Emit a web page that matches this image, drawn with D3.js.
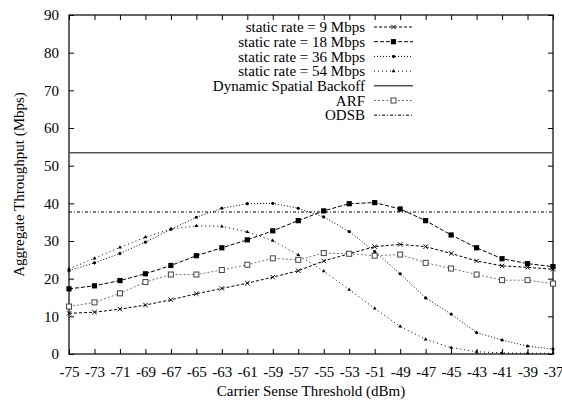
<!DOCTYPE html>
<html lang="en">
<head>
<meta charset="utf-8">
<title>Aggregate throughput vs carrier sense threshold</title>
<script src="https://cdn.jsdelivr.net/npm/d3@7"></script>
<style>
  body { margin: 0; background: #fff; }
</style>
</head>
<body>
<script>
var thresholds = [-75, -73, -71, -69, -67, -65, -63, -61, -59, -57, -55, -53, -51, -49, -47, -45, -43, -41, -39, -37];
var rate9  = [10.8, 11.1, 11.9, 13.0, 14.4, 16.0, 17.4, 18.8, 20.4, 22.1, 24.7, 26.6, 28.5, 29.1, 28.5, 26.7, 24.7, 23.4, 23.0, 22.5];
var rate18 = [17.3, 18.1, 19.5, 21.3, 23.5, 26.1, 28.2, 30.3, 32.7, 35.4, 38.0, 39.9, 40.2, 38.5, 35.4, 31.6, 28.2, 25.3, 24.0, 23.2];
var rate36 = [22.1, 24.2, 26.7, 29.7, 33.1, 36.3, 38.7, 39.9, 40.0, 38.7, 36.4, 32.5, 27.2, 21.3, 14.9, 10.6, 5.7, 3.7, 2.1, 1.3];
var rate54 = [22.6, 25.4, 28.3, 31.0, 33.2, 34.0, 33.9, 32.4, 30.1, 26.3, 22.0, 17.1, 12.1, 7.3, 3.9, 1.7, 0.6, 0.3, 0.2, 0.2];
var arf    = [12.6, 13.7, 16.1, 19.1, 21.1, 21.1, 22.3, 23.7, 25.4, 25.0, 26.8, 26.6, 26.1, 26.4, 24.2, 22.7, 21.1, 19.6, 19.6, 18.7];
var dsb = 53.4;
var odsb = 37.7;
var yTicks = [0, 10, 20, 30, 40, 50, 60, 70, 80, 90];

var w = 562, h = 403;
var mLeft = 69, mRight = 553, mTop = 15, mBottom = 354;
var font = "'Liberation Serif', 'Times New Roman', 'DejaVu Serif', serif";

var x = d3.scaleLinear().domain([-75, -37]).range([mLeft, mRight]);
var y = d3.scaleLinear().domain([0, 90]).range([mBottom, mTop]);

var svg = d3.select("body").append("svg")
  .attr("width", w).attr("height", h)
  .attr("font-family", font).attr("font-size", 15);

var series = [
  {name: "static rate = 9 Mbps", values: rate9, dash: "3,2", color: "#000", marker: "cross"},
  {name: "static rate = 18 Mbps", values: rate18, dash: "4,2", color: "#000", marker: "square"},
  {name: "static rate = 36 Mbps", values: rate36, dash: "1,2", color: "#000", marker: "circle"},
  {name: "static rate = 54 Mbps", values: rate54, dash: "1,3", color: "#000", marker: "triangle"},
  {name: "Dynamic Spatial Backoff", constant: dsb, dash: null, color: "#555", width: 1.5},
  {name: "ARF", values: arf, dash: "2,2", color: "#777", marker: "open"},
  {name: "ODSB", constant: odsb, dash: "3,2,1,2", color: "#000"}
];

//axes frame with inward ticks on all sides
svg.append("rect")
  .attr("x", mLeft).attr("y", mTop)
  .attr("width", mRight - mLeft).attr("height", mBottom - mTop)
  .attr("fill", "none").attr("stroke", "#000").attr("stroke-width", 1.2);

var xAxis = d3.axisBottom(x).tickValues(thresholds).tickSize(-5).tickPadding(12).tickFormat(function(d) { return String(d); });
var gx = svg.append("g").attr("transform", "translate(0," + mBottom + ")").call(xAxis);
var xTop = d3.axisTop(x).tickValues(thresholds).tickSize(-5).tickFormat("");
var gxt = svg.append("g").attr("transform", "translate(0," + mTop + ")").call(xTop);
var yAxis = d3.axisLeft(y).tickValues(yTicks).tickSize(-5).tickPadding(10);
var gy = svg.append("g").attr("transform", "translate(" + mLeft + ",0)").call(yAxis);
var yRight = d3.axisRight(y).tickValues(yTicks).tickSize(-5).tickFormat("");
var gyr = svg.append("g").attr("transform", "translate(" + mRight + ",0)").call(yRight);
[gx, gxt, gy, gyr].forEach(function(g) {
  g.attr("font-family", font).attr("font-size", 15);
  g.select(".domain").remove();
  g.selectAll("line").attr("stroke", "#000");
  g.selectAll("text").attr("fill", "#000");
});

//axis titles
svg.append("text")
  .attr("x", (mLeft + mRight) / 2).attr("y", 396)
  .attr("text-anchor", "middle")
  .text("Carrier Sense Threshold (dBm)");
svg.append("text")
  .attr("transform", "translate(24," + (mTop + mBottom) / 2 + ") rotate(-90)")
  .attr("text-anchor", "middle")
  .text("Aggregate Throughput (Mbps)");

var line = d3.line()
  .x(function(d, i) { return x(thresholds[i]); })
  .y(function(d) { return y(d); });

function drawMarker(g, type, cx, cy, color) {
  if (type === "cross") {
    g.append("path").attr("d", "M" + (cx - 2.2) + "," + (cy - 2.2) + "L" + (cx + 2.2) + "," + (cy + 2.2) +
      "M" + (cx - 2.2) + "," + (cy + 2.2) + "L" + (cx + 2.2) + "," + (cy - 2.2))
      .attr("stroke", color).attr("stroke-width", 1);
  } else if (type === "square") {
    g.append("rect").attr("x", cx - 2.6).attr("y", cy - 2.6).attr("width", 5.2).attr("height", 5.2).attr("fill", color);
  } else if (type === "circle") {
    g.append("circle").attr("cx", cx).attr("cy", cy).attr("r", 1.6).attr("fill", color);
  } else if (type === "triangle") {
    g.append("path").attr("d", d3.symbol().type(d3.symbolTriangle).size(6)()).attr("transform", "translate(" + cx + "," + cy + ")").attr("fill", color);
  } else if (type === "open") {
    g.append("rect").attr("x", cx - 2.5).attr("y", cy - 2.5).attr("width", 5).attr("height", 5)
      .attr("fill", "#fff").attr("stroke", "#444").attr("stroke-width", 1);
  }
}

//data lines
series.forEach(function(s) {
  var g = svg.append("g");
  if (s.constant !== undefined) {
    g.append("line")
      .attr("x1", mLeft).attr("x2", mRight)
      .attr("y1", y(s.constant)).attr("y2", y(s.constant))
      .attr("stroke", s.color).attr("stroke-width", s.width || 1)
      .attr("stroke-dasharray", s.dash);
  } else {
    g.append("path").datum(s.values)
      .attr("d", line)
      .attr("fill", "none")
      .attr("stroke", s.color).attr("stroke-width", 1)
      .attr("stroke-dasharray", s.dash);
    s.values.forEach(function(v, i) {
      drawMarker(g, s.marker, x(thresholds[i]), y(v), s.marker === "open" ? "#444" : "#000");
    });
  }
});

//legend
var legend = svg.append("g");
series.forEach(function(s, i) {
  var ly = 27 + i * 14.7;
  legend.append("text")
    .attr("x", 365).attr("y", ly).attr("dy", "0.35em")
    .attr("text-anchor", "end")
    .text(s.name);
  legend.append("line")
    .attr("x1", 374).attr("x2", 413).attr("y1", ly).attr("y2", ly)
    .attr("stroke", s.color).attr("stroke-width", s.width || 1)
    .attr("stroke-dasharray", s.dash);
  if (s.marker) drawMarker(legend, s.marker, 393.5, ly, s.marker === "open" ? "#444" : "#000");
});
</script>
</body>
</html>
